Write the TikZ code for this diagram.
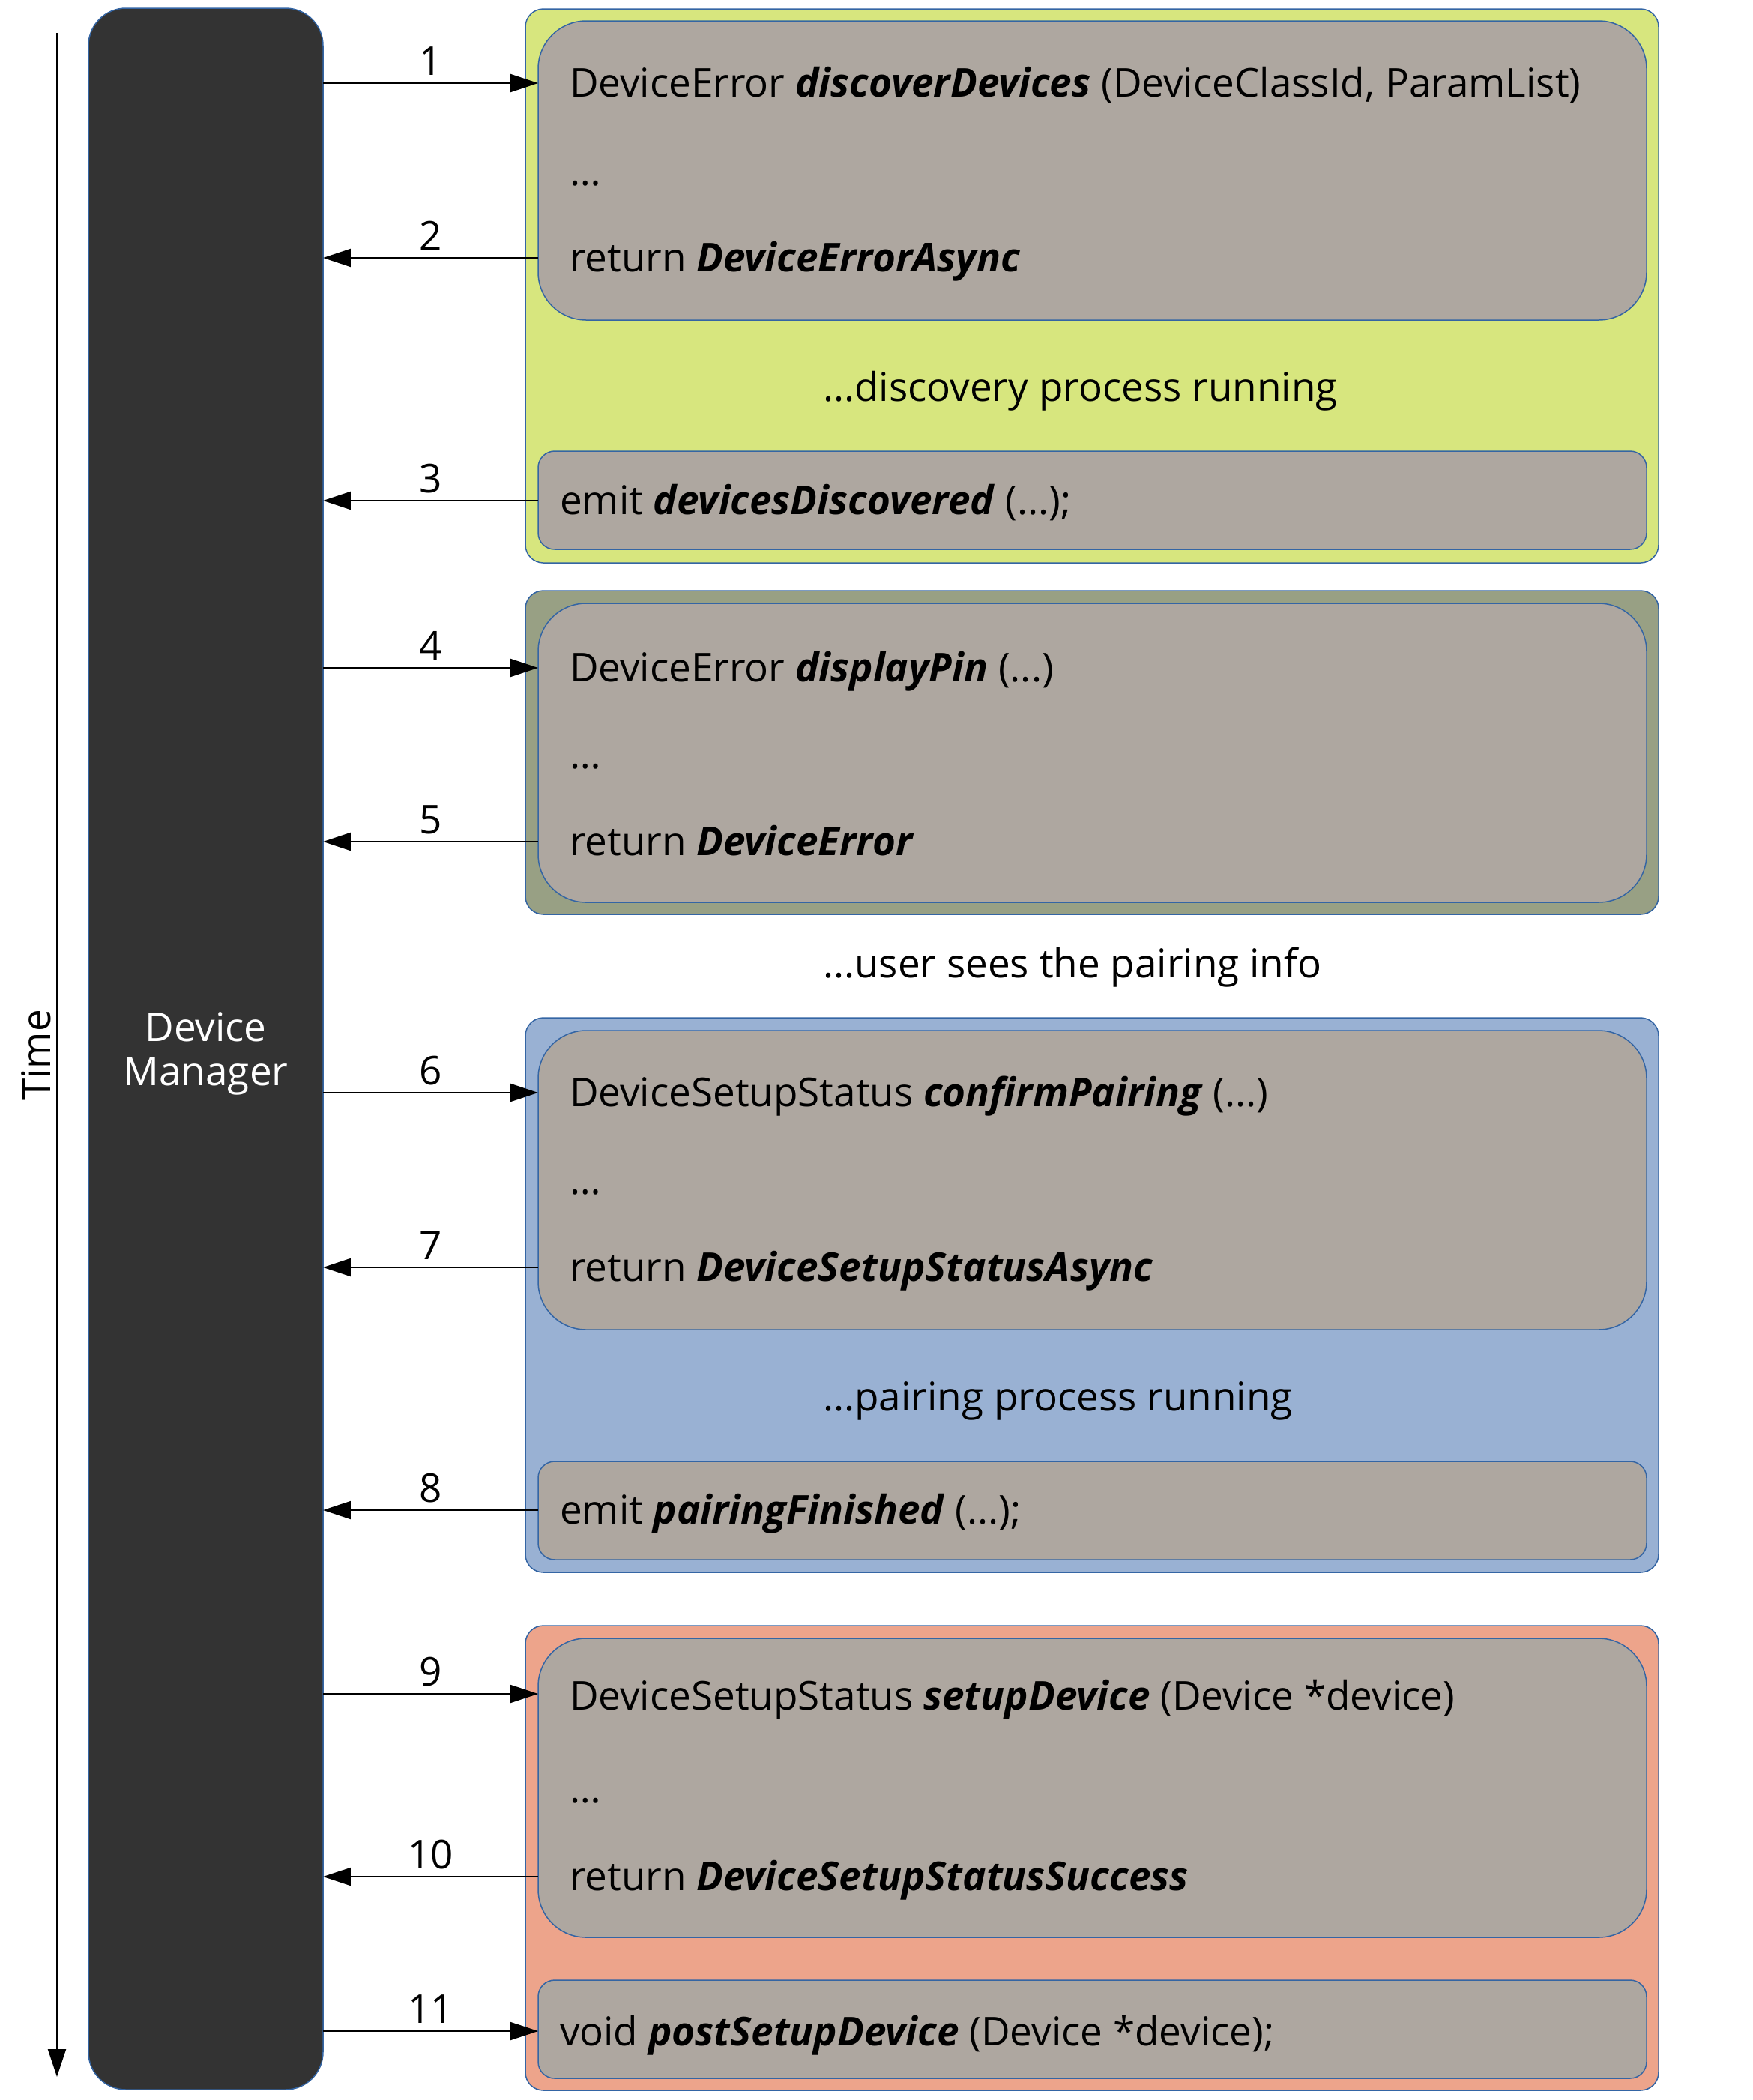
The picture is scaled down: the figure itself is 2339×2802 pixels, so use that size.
\documentclass[tikz,border=0pt]{standalone}
\usepackage{fontspec}
\setmainfont{Open Sans}
\usetikzlibrary{arrows.meta}
\definecolor{dmgray}{HTML}{333333}
\definecolor{boxgray}{HTML}{AEA7A0}
\definecolor{limefill}{HTML}{D7E67E}
\definecolor{olivefill}{HTML}{98A084}
\definecolor{steelfill}{HTML}{99B1D3}
\definecolor{salmonfill}{HTML}{EDA48B}
\definecolor{edgeblue}{HTML}{3465A4}
\newcommand{\fn}[1]{\textbf{\textit{#1}}}
\begin{document}
\begin{tikzpicture}[x=0.5pt,y=-0.5pt,
  every node/.style={inner sep=0pt, outer sep=0pt},
  txt/.style={anchor=base west, font=\fontsize{26.5pt}{30pt}\selectfont, text=black},
  num/.style={anchor=base, font=\fontsize{26.5pt}{30pt}\selectfont, text=black},
  group/.style={draw=edgeblue, line width=0.75pt, rounded corners=12pt, minimum width=756pt, anchor=north west},
  bigbox/.style={draw=edgeblue, fill=boxgray, line width=0.75pt, rounded corners=32pt, minimum width=739.5pt, minimum height=199.5pt, anchor=north west},
  smallbox/.style={draw=edgeblue, fill=boxgray, line width=0.75pt, rounded corners=11pt, minimum width=739.5pt, minimum height=65.5pt, anchor=north west},
  msg/.style={line width=1pt, -{Triangle[length=18.5pt,width=12pt]}}
]
\useasboundingbox (0,0) rectangle (2339,2802);

% Device manager
\node[draw=edgeblue, line width=0.75pt, fill=dmgray, rounded corners=25pt, minimum width=156.5pt, minimum height=1388.5pt] (dm) at (274.5,1399.5) {};
\node[anchor=base, text=white, font=\fontsize{26.5pt}{30pt}\selectfont] (dml1) at (dm.center |- 0,1389) {Device};
\node[anchor=base, text=white, font=\fontsize{26.5pt}{30pt}\selectfont] (dml2) at (dm.center |- 0,1448) {Manager};

% Time axis
\coordinate (ts) at (76,44);
\coordinate (te) at (76,2771);
\draw[msg] (ts) -- (te);
\node[rotate=90, anchor=base, font=\fontsize{26.5pt}{30pt}\selectfont] (time) at (67,1408) {Time};

% group boxes
\node[group, fill=limefill, minimum height=369.5pt] (g1) at (701,12) {};
\node[group, fill=olivefill, minimum height=216pt] (g2) at (701,788) {};
\node[group, fill=steelfill, minimum height=370pt] (g3) at (701,1358) {};
\node[group, fill=salmonfill, minimum height=310pt] (g4) at (701,2169) {};

% inner boxes
\node[bigbox] (c1) at (718,28) {};
\node[smallbox] (e1) at (718,602) {};
\node[bigbox] (c2) at (718,805) {};
\node[bigbox] (c3) at (718,1375) {};
\node[smallbox] (e3) at (718,1950) {};
\node[bigbox] (c4) at (718,2186) {};
\node[smallbox] (e4) at (718,2642) {};

% texts
\node[txt] (t1a) at (760,129) {DeviceError \fn{discoverDevices} (DeviceClassId, ParamList)};
\node[txt] (t1b) at (760,247) {…};
\node[txt] (t1c) at (760,362) {return \fn{DeviceErrorAsync}};
\node[txt] (t1d) at (1098,535) {...discovery process running};
\node[txt] (t1e) at (747,686) {emit \fn{devicesDiscovered} (...);};

\node[txt] (t2a) at (760,909) {DeviceError \fn{displayPin} (...)};
\node[txt] (t2b) at (760,1025) {…};
\node[txt] (t2c) at (760,1141) {return \fn{DeviceError}};
\node[txt] (t2d) at (1098,1304) {...user sees the pairing info};

\node[txt] (t3a) at (760,1476) {DeviceSetupStatus \fn{confirmPairing} (...)};
\node[txt] (t3b) at (760,1593) {…};
\node[txt] (t3c) at (760,1709) {return \fn{DeviceSetupStatusAsync}};
\node[txt] (t3d) at (1098,1882) {...pairing process running};
\node[txt] (t3e) at (747,2033) {emit \fn{pairingFinished} (...);};

\node[txt] (t4a) at (760,2281) {DeviceSetupStatus \fn{setupDevice} (Device *device)};
\node[txt] (t4b) at (760,2405) {…};
\node[txt] (t4c) at (760,2522) {return \fn{DeviceSetupStatusSuccess}};
\node[txt] (t4e) at (747,2729) {void \fn{postSetupDevice} (Device *device);};

% message levels
\coordinate (y1) at (0,111);
\coordinate (y2) at (0,344);
\coordinate (y3) at (0,668);
\coordinate (y4) at (0,891);
\coordinate (y5) at (0,1123);
\coordinate (y6) at (0,1458);
\coordinate (y7) at (0,1691);
\coordinate (y8) at (0,2015);
\coordinate (y9) at (0,2260);
\coordinate (y10) at (0,2504);
\coordinate (y11) at (0,2710);

\draw[msg] (dm.east |- y1) -- (c1.west |- y1);
\draw[msg] (c1.west |- y2) -- (dm.east |- y2);
\draw[msg] (e1.west |- y3) -- (dm.east |- y3);
\draw[msg] (dm.east |- y4) -- (c2.west |- y4);
\draw[msg] (c2.west |- y5) -- (dm.east |- y5);
\draw[msg] (dm.east |- y6) -- (c3.west |- y6);
\draw[msg] (c3.west |- y7) -- (dm.east |- y7);
\draw[msg] (e3.west |- y8) -- (dm.east |- y8);
\draw[msg] (dm.east |- y9) -- (c4.west |- y9);
\draw[msg] (c4.west |- y10) -- (dm.east |- y10);
\draw[msg] (dm.east |- y11) -- (e4.west |- y11);

% numbers
\node[num] (n1) at (574.5,100) {1};
\node[num] (n2) at (574.5,333) {2};
\node[num] (n3) at (574.5,657) {3};
\node[num] (n4) at (574.5,880) {4};
\node[num] (n5) at (574.5,1112) {5};
\node[num] (n6) at (574.5,1447) {6};
\node[num] (n7) at (574.5,1680) {7};
\node[num] (n8) at (574.5,2004) {8};
\node[num] (n9) at (574.5,2249) {9};
\node[num] (n10) at (574.5,2493) {10};
\node[num] (n11) at (574.5,2699) {11};
\end{tikzpicture}
\end{document}
